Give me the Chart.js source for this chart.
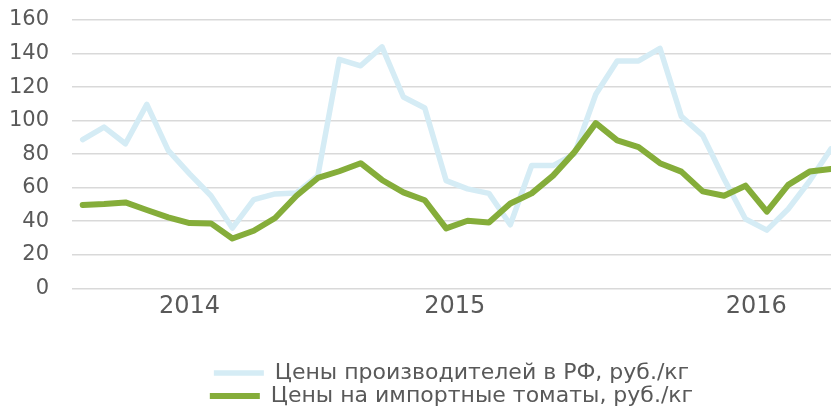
<!DOCTYPE html>
<html><head><meta charset="utf-8">
<script src="https://cdn.jsdelivr.net/npm/chart.js@4"></script>
<style>html,body{margin:0;padding:0;background:#fff;}#wrap{width:831px;height:409px;}</style>
</head><body><div id="wrap"><canvas id="c" width="831" height="409"></canvas></div>
<script>
const producerPrices = [88.6,96.1,86.2,109.7,82.2,68.2,55.2,35.9,52.9,56.3,56.9,67.2,136.5,132.7,144,114.1,107.5,64.2,59.3,56.6,37.9,73.2,73.2,80.2,115.7,135.6,135.6,143.1,102.5,91.2,65.2,41.3,34.7,47.3,64,83.2];
const importPrices = [49.7,50.3,51.2,46.7,42.3,38.9,38.7,29.7,34.3,41.9,55.2,65.8,69.8,74.6,64.6,57.2,52.5,35.7,40.3,39.3,50.6,56.6,67.2,81.2,98.5,88.2,84.2,74.6,69.6,57.8,55.2,61.2,45.7,61.7,69.6,71.2];
const yearLabels = ['2014','2015','2016'];
const yearTickPos = [5, 17.4, 31.5];
const seriesNames = ['Цены производителей в РФ, руб./кг','Цены на импортные томаты, руб./кг'];

const FONT = "'DejaVu Sans', sans-serif";
const toPts = arr => arr.map((v,i)=>({x:i,y:v}));

// Legend centred under the plot area (as in the original), nudged down
const legendShift = {
  id:'legendShift',
  beforeDraw(chart){
    const l = chart.legend;
    if (l && !l._shifted) { l.left = chart.chartArea.left; l.top += 8; l._shifted = true; }
  },
  afterUpdate(chart){ if (chart.legend) chart.legend._shifted = false; }
};

new Chart(document.getElementById('c'), {
  type: 'line',
  data: {
    datasets: [
      {label: seriesNames[0], data: toPts(producerPrices), borderColor:'#D5ECF5', backgroundColor:'#D5ECF5', borderWidth:5.5, pointRadius:0, tension:0, borderCapStyle:'round', borderJoinStyle:'round', order:1},
      {label: seriesNames[1], data: toPts(importPrices), borderColor:'#85AD3A', backgroundColor:'#85AD3A', borderWidth:6, pointRadius:0, tension:0, borderCapStyle:'round', borderJoinStyle:'round', order:0}
    ]
  },
  plugins:[legendShift],
  options: {
    responsive:false, animation:false, devicePixelRatio:1,
    layout:{padding:{left:11, top:20, right:0, bottom:0}},
    plugins:{
      tooltip:{enabled:false},
      legend:{position:'bottom', align:'center',
        labels:{usePointStyle:true, pointStyle:'line', pointStyleWidth:50, padding:1, color:'#595959',
          font:{family:FONT, size:22},
          sort:(a,b)=>a.datasetIndex-b.datasetIndex}}
    },
    scales:{
      x:{type:'linear', min:-0.5, max:35,
        afterBuildTicks: s => { s.ticks = yearTickPos.map(v=>({value:v})); },
        afterFit: s => { s.height = 64.7; },
        grid:{display:false, drawTicks:false}, border:{display:false},
        ticks:{autoSkip:false, maxRotation:0, padding:4.5, color:'#595959', font:{family:FONT, size:24},
          callback:(v,i)=>yearLabels[i]}
      },
      y:{min:0, max:160,
        afterFit: s => { s.width = 61; s.paddingTop = 0; s.paddingBottom = 0; },
        grid:{color:'#D9D9D9', lineWidth:1.5, drawTicks:false}, border:{display:false},
        ticks:{stepSize:20, padding:23, color:'#595959', font:{family:FONT, size:21}}
      }
    }
  }
});
</script></body></html>
